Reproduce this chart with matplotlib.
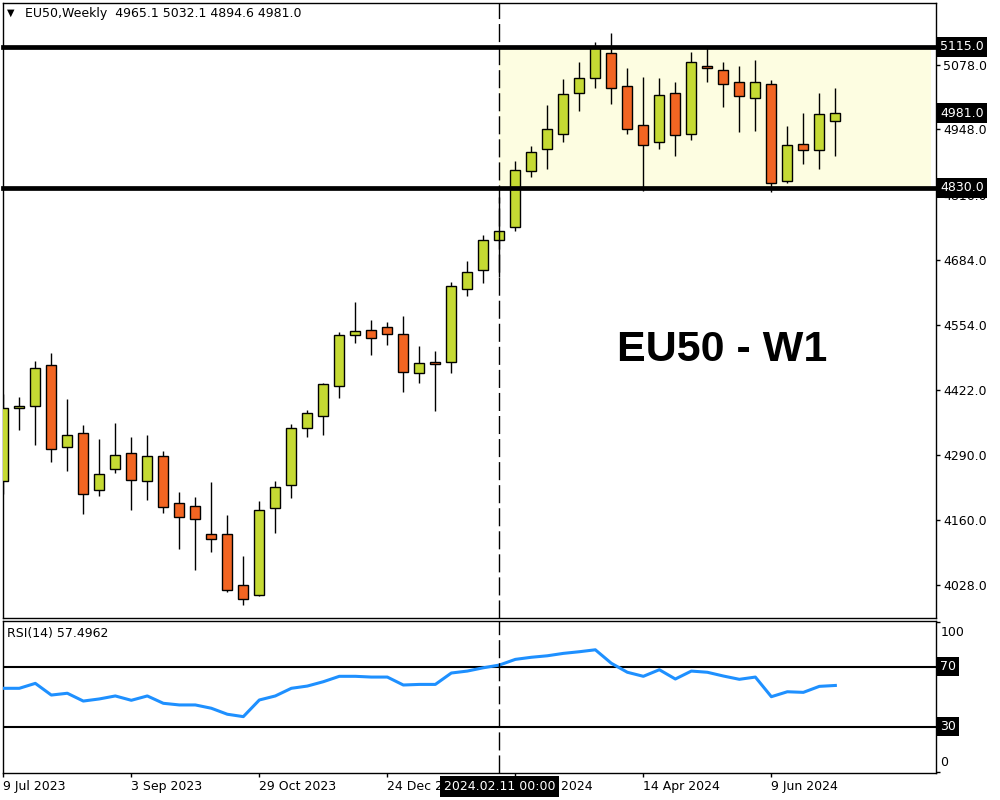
import pandas as pd
import matplotlib
matplotlib.use('Agg')
import matplotlib.pyplot as plt
from matplotlib.patches import Rectangle
from matplotlib.transforms import blended_transform_factory

# weekly EU50 candles (9 Jul 2023 .. 7 Jul 2024)
opens = [4237.5, 4384.9, 4389.0, 4471.7, 4306.1, 4334.4, 4219.3, 4261.7, 4294.0, 4237.5,
         4288.0, 4193.1, 4187.0, 4130.5, 4130.5, 4027.5, 4007.3, 4183.0, 4229.4, 4344.5,
         4368.7, 4429.3, 4532.3, 4542.4, 4548.4, 4534.3, 4455.5, 4477.7, 4477.7, 4625.1,
         4663.5, 4724.1, 4750.3, 4863.4, 4907.8, 4938.1, 5020.9, 5051.1, 5101.6, 5035.0,
         4956.3, 4921.9, 5020.9, 4938.1, 5075.4, 5067.3, 5043.1, 5010.8, 5039.0, 4843.2,
         4917.9, 4905.8, 4965.1]
highs = [4413.7, 4407.0, 4479.8, 4496.5, 4403.0, 4350.6, 4322.3, 4354.6, 4326.3, 4330.4,
         4298.0, 4215.3, 4205.2, 4235.5, 4168.8, 4086.1, 4197.1, 4238.1, 4352.6, 4381.4,
         4436.0, 4538.3, 4598.9, 4562.5, 4558.5, 4570.6, 4510.0, 4500.0, 4639.3, 4682.3,
         4735.4, 4812.0, 4883.6, 4914.5, 4997.2, 5049.1, 5084.1, 5123.8, 5142.6, 5071.3,
         5053.8, 5051.1, 5043.7, 5104.2, 5111.7, 5084.1, 5076.0, 5088.1, 5047.1, 4954.2,
         4980.5, 5020.9, 5032.1]
lows = [4211.8, 4341.7, 4311.4, 4277.1, 4258.9, 4172.1, 4208.4, 4254.9, 4180.1, 4200.3,
        4174.1, 4101.4, 4059.0, 4095.4, 4013.4, 3988.4, 4005.3, 4133.7, 4204.4, 4327.5,
        4331.6, 4406.3, 4517.3, 4493.1, 4513.3, 4418.4, 4436.6, 4380.0, 4455.5, 4612.2,
        4638.5, 4650.0, 4743.5, 4852.5, 4868.6, 4923.1, 4985.7, 5032.2, 4999.9, 4939.3,
        4824.2, 4909.0, 4894.9, 4927.2, 5043.0, 4993.8, 4943.3, 4945.4, 4821.0, 4839.2,
        4878.7, 4868.6, 4894.6]
closes = [4384.9, 4389.0, 4465.6, 4302.1, 4330.4, 4211.2, 4251.6, 4290.0, 4239.5, 4288.0,
          4185.0, 4164.8, 4160.8, 4120.4, 4017.4, 3999.3, 4179.0, 4225.4, 4344.5, 4374.8,
          4433.3, 4532.3, 4540.3, 4526.2, 4534.3, 4457.6, 4475.7, 4473.7, 4631.2, 4659.5,
          4724.1, 4742.2, 4865.4, 4901.7, 4948.2, 5018.8, 5051.1, 5114.0, 5031.0, 4948.2,
          4915.9, 5016.8, 4936.1, 5083.5, 5071.3, 5039.0, 5014.8, 5043.1, 4839.2, 4915.9,
          4905.8, 4978.5, 4981.0]
rsi = [55.6, 55.6, 58.9, 51.1, 52.3, 47.1, 48.5, 50.5, 47.6, 50.5,
       45.6, 44.5, 44.5, 42.3, 38.3, 36.7, 47.8, 50.5, 55.6, 57.1,
       60.0, 63.6, 63.6, 63.1, 63.1, 57.8, 58.2, 58.2, 65.8, 67.1,
       69.3, 71.1, 74.9, 76.3, 77.3, 78.9, 80.0, 81.3, 72.3, 66.3,
       63.6, 68.0, 61.8, 67.1, 66.3, 63.8, 61.6, 63.1, 50.0, 53.3,
       52.9, 56.9, 57.5]

start_date = '2023-07-09'
label_every = 8
crosshair_idx = 31
resistance = 5115.0
support = 4830.0
price_ticks = [5078.0, 4948.0, 4816.0, 4684.0, 4554.0, 4422.0, 4290.0, 4160.0, 4028.0]
rsi_levels = [70, 30]
header = 'EU50,Weekly  4965.1 5032.1 4894.6 4981.0'
rsi_header = 'RSI(14) 57.4962'
crosshair_label = '2024.02.11 00:00'

bull = '#C5DA33'
bear = '#F26522'
zone = '#FDFDE1'
font = 'DejaVu Sans'

dates = pd.date_range(start_date, periods=len(closes), freq='7D')
n = len(closes)

fig = plt.figure(figsize=(10, 8), dpi=100)
ax = fig.add_axes([0.0025, 0.2275, 0.9335, 0.76875])
ax2 = fig.add_axes([0.0025, 0.03375, 0.9335, 0.19])

# --- price panel ---
ax.set_xlim(-0.05, 58.29)
ax.set_ylim(3961.5, 5203.2)
ax.add_patch(Rectangle((crosshair_idx, support), 58.0 - crosshair_idx, resistance - support,
                       facecolor=zone, edgecolor='none', zorder=0))

w = 0.625
for i in range(n):
    o, h, l, c = opens[i], highs[i], lows[i], closes[i]
    ax.vlines(i, l, h, color='black', lw=1.0, zorder=2)
    col = bull if c >= o else bear
    ax.add_patch(Rectangle((i - w / 2, min(o, c)), w, max(abs(c - o), 1.5),
                           facecolor=col, edgecolor='black', lw=1.0, zorder=3))

ax.axhline(resistance, color='black', lw=3.4, zorder=4, clip_on=False)
ax.axhline(support, color='black', lw=3.4, zorder=4, clip_on=False)

ax.yaxis.tick_right()
ax.set_yticks(price_ticks)
ax.set_yticklabels([f'{p:.1f}' for p in price_ticks], fontsize=9, family=font)
ax.tick_params(axis='y', length=3, width=1, pad=2, direction='out')
ax.set_xticks([])

trans = blended_transform_factory(ax.transAxes, ax.transData)
for val in [resistance, closes[-1], support]:
    ax.text(1.0045, val, f'{val:.1f}', transform=trans, ha='left', va='center',
            fontsize=9, family=font, color='white', zorder=10, clip_on=False,
            bbox=dict(boxstyle='square,pad=0.28', fc='black', ec='none'))

ax.text(0.771, 0.436, 'EU50 - W1', transform=ax.transAxes, ha='center', va='center',
        fontsize=31, fontweight='bold', family='Liberation Sans', color='black', zorder=6)

# --- RSI panel ---
ax2.set_xlim(-0.05, 58.29)
ax2.set_ylim(-0.9, 100.5)
ax2.plot(range(n), rsi, color='#1E90FF', lw=2.2, zorder=3, solid_joinstyle='round')
for lev in rsi_levels:
    ax2.axhline(lev, color='black', lw=1.5, zorder=2)
ax2.yaxis.tick_right()
ax2.set_yticks([100, 0])
ax2.set_yticklabels([])
ax2.tick_params(axis='y', length=3, width=1)
trans2 = blended_transform_factory(ax2.transAxes, ax2.transData)
ax2.text(1.0045, 93.1, '100', transform=trans2, ha='left', va='center', fontsize=9,
         family=font, clip_on=False)
ax2.text(1.0045, 5.8, '0', transform=trans2, ha='left', va='center', fontsize=9,
         family=font, clip_on=False)
for lev in rsi_levels:
    ax2.text(1.0045, lev, str(lev), transform=trans2, ha='left', va='center', fontsize=9,
             family=font, color='white', clip_on=False, zorder=10,
             bbox=dict(boxstyle='square,pad=0.25', fc='black', ec='none'))

tick_idx = list(range(0, n, label_every))
ax2.set_xticks(tick_idx)
ax2.set_xticklabels([f'{dates[i].day} {dates[i].strftime("%b %Y")}' for i in tick_idx],
                    fontsize=9, family=font, ha='left')
ax2.tick_params(axis='x', length=3, width=1, pad=2)

# crosshair through both panels
for a in (ax, ax2):
    ln = a.axvline(crosshair_idx, color='black', lw=1.0, zorder=5)
    ln.set_dashes((13, 3.6))
    for s in a.spines.values():
        s.set_linewidth(1.0)

transx = blended_transform_factory(ax2.transData, ax2.transAxes)
ax2.text(crosshair_idx, -0.089, crosshair_label, transform=transx, ha='center', va='center',
         fontsize=9, family=font, color='white', zorder=10, clip_on=False,
         bbox=dict(boxstyle='square,pad=0.3', fc='black', ec='none'))

# headers
fig.text(0.007, 0.98375, '\u25BC', fontsize=7, family=font, va='center', ha='left')
fig.text(0.025, 0.98375, header, fontsize=9, family=font, va='center', ha='left')
fig.text(0.007, 0.2075, rsi_header, fontsize=9, family=font, va='center', ha='left')

fig.savefig('out.png', dpi=100)
